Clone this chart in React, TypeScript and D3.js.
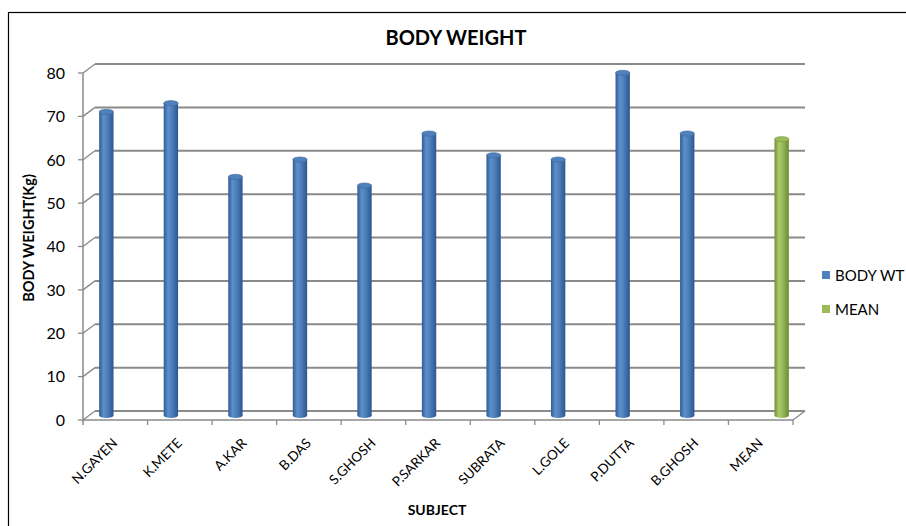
import React from 'react';
import * as d3 from 'd3';

const subjects = ['N.GAYEN', 'K.METE', 'A.KAR', 'B.DAS', 'S.GHOSH', 'P.SARKAR', 'SUBRATA', 'L.GOLE', 'P.DUTTA', 'B.GHOSH', 'MEAN'];
const seriesNames = ['BODY WT', 'MEAN'];
const bodyWt = [70, 72, 55, 59, 53, 65, 60, 59, 79, 65, null];
const meanWt = [null, null, null, null, null, null, null, null, null, null, 63.7];
const yTicks = [0, 10, 20, 30, 40, 50, 60, 70, 80];

const FONT = 'Lato, "Open Sans", sans-serif';
const GRID = '#8a8a8a';

// depth offset of the 3D back wall
const dx = 12;
const dy = -9;

const App = () => {
  const width = 906;
  const height = 526;

  const y = d3.scaleLinear().domain([0, 80]).range([420, 73]);
  const x = d3.scaleBand<string>().domain(subjects).range([83, 793]).paddingInner(0).paddingOuter(0);
  const sub = d3.scaleBand<string>().domain(seriesNames).range([0, x.bandwidth()]).paddingInner(0.52).paddingOuter(0.34);

  const bars: { cat: string; series: string; value: number }[] = [];
  subjects.forEach((s, i) => {
    if (bodyWt[i] != null) bars.push({ cat: s, series: 'BODY WT', value: bodyWt[i] as number });
    if (meanWt[i] != null) bars.push({ cat: s, series: 'MEAN', value: meanWt[i] as number });
  });

  const colors: Record<string, string> = { 'BODY WT': '#4f81bd', MEAN: '#9bbb59' };
  const gradId: Record<string, string> = { 'BODY WT': 'cylBlue', MEAN: 'cylGreen' };
  const bw = sub.bandwidth();
  const ry = 2.6;
  const x0 = x.range()[0];
  const x1 = x.range()[1];

  return (
    <svg width={width} height={height} style={{ position: 'absolute', left: 0, top: 0 }}>
      <defs>
        <linearGradient id="cylBlue" x1="0" x2="1" y1="0" y2="0">
          <stop offset="0" stopColor="#2f5b93" />
          <stop offset="0.3" stopColor="#5d8fcb" />
          <stop offset="0.55" stopColor="#4f81bd" />
          <stop offset="1" stopColor="#2c5690" />
        </linearGradient>
        <linearGradient id="cylGreen" x1="0" x2="1" y1="0" y2="0">
          <stop offset="0" stopColor="#718f36" />
          <stop offset="0.3" stopColor="#adc96c" />
          <stop offset="0.55" stopColor="#9bbb59" />
          <stop offset="1" stopColor="#6c8a33" />
        </linearGradient>
      </defs>
      <rect x={0} y={0} width={width} height={height} fill="#fff" />
      {/* chart frame */}
      <rect x={8.5} y={12.5} width={width + 10} height={height + 10} fill="none" stroke="#000" strokeWidth={1.2} />

      {/* back wall gridlines and side wall diagonals */}
      {yTicks.map(t => (
        <g key={t}>
          <line x1={x0 + dx} x2={x1 + dx} y1={y(t) + dy} y2={y(t) + dy} stroke={GRID} strokeWidth={2} />
          <line x1={x0} x2={x0 + dx} y1={y(t)} y2={y(t) + dy} stroke={GRID} strokeWidth={1.3} />
          <line x1={x0 - 5} x2={x0} y1={y(t)} y2={y(t)} stroke={GRID} strokeWidth={1.3} />
          <text x={x0 - 18} y={y(t)} dy="0.36em" textAnchor="end" fontFamily={FONT} fontSize={16} fill="#000">{t}</text>
        </g>
      ))}
      {/* front vertical axis */}
      <line x1={x0} x2={x0} y1={y(80)} y2={y(0) + 5} stroke={GRID} strokeWidth={1.5} />
      {/* floor front edge + right edge */}
      <line x1={x0} x2={x1} y1={y(0)} y2={y(0)} stroke={GRID} strokeWidth={1.5} />
      <line x1={x1} x2={x1 + dx} y1={y(0)} y2={y(0) + dy} stroke={GRID} strokeWidth={1.3} />
      {subjects.map(s => (
        <line key={s} x1={(x(s) as number) + x.bandwidth()} x2={(x(s) as number) + x.bandwidth()} y1={y(0)} y2={y(0) + 5} stroke={GRID} strokeWidth={1.3} />
      ))}

      {/* cylinders */}
      {bars.map(d => {
        const cx = (x(d.cat) as number) + (sub(d.series) as number) + bw / 2 + dx / 2;
        const top = y(d.value) + dy / 2;
        const bottom = y(0) + dy / 2;
        return (
          <g key={d.cat + d.series}>
            <ellipse cx={cx} cy={bottom} rx={bw / 2} ry={ry} fill={`url(#${gradId[d.series]})`} />
            <rect x={cx - bw / 2} y={top} width={bw} height={bottom - top} fill={`url(#${gradId[d.series]})`} />
            <ellipse cx={cx} cy={top} rx={bw / 2} ry={ry} fill={colors[d.series]} stroke={d3.color(colors[d.series])!.darker(0.6).toString()} strokeWidth={0.6} />
          </g>
        );
      })}

      {/* category labels */}
      {subjects.map(s => {
        const cx = (x(s) as number) + x.bandwidth() / 2;
        return (
          <text key={s} transform={`translate(${cx + 3},${444}) rotate(-45)`} textAnchor="end" fontFamily={FONT} fontSize={13.5} fill="#000">{s}</text>
        );
      })}

      {/* titles */}
      <text x={456} y={45} textAnchor="middle" fontFamily={FONT} fontWeight="bold" fontSize={20} fill="#000">BODY WEIGHT</text>
      <text transform={`translate(34,238) rotate(-90)`} textAnchor="middle" fontFamily={FONT} fontWeight="bold" fontSize={14.5} fill="#000">BODY WEIGHT(Kg)</text>
      <text x={437} y={515} textAnchor="middle" fontFamily={FONT} fontWeight="bold" fontSize={14} fill="#000">SUBJECT</text>

      {/* legend */}
      {seriesNames.map((n, i) => (
        <g key={n} transform={`translate(822,${271 + i * 34})`}>
          <rect x={0} y={0} width={8} height={8} fill={colors[n]} />
          <text x={13} y={9.5} fontFamily={FONT} fontSize={15} fill="#000">{n}</text>
        </g>
      ))}
    </svg>
  );
};

export default App;
